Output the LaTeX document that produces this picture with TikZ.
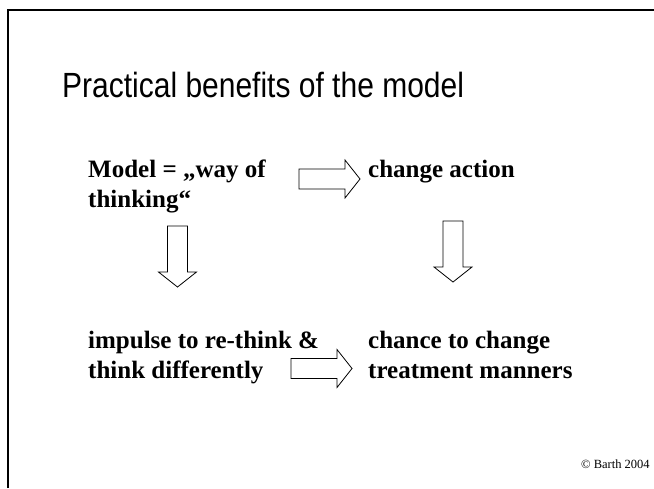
\documentclass[tikz,border=0pt]{standalone}
\usepackage{fontspec}
\setmainfont{Liberation Serif}
\newfontfamily\titlefont[FakeStretch=0.857]{Liberation Sans}
\newcommand{\twolines}[2]{\vtop{\hbox{#1}\hbox{#2}}}
\begin{document}
\begin{tikzpicture}[x=1pt,y=-1pt,
  titletext/.style={anchor=base west,inner sep=0pt,font=\titlefont\fontsize{35}{40}\selectfont},
  bodytext/.style={anchor=base west,inner sep=0pt,font=\bfseries\fontsize{25}{30}\selectfont},
  smalltext/.style={anchor=base west,inner sep=0pt,font=\fontsize{12.5}{14}\selectfont},
  frameline/.style={line width=2.5pt,black},
  blockarrow/.pic={\draw[line width=0.8pt,fill=white,line join=miter]
     (0,-10) -- (46,-10) -- (46,-19) -- (61,0) -- (46,19) -- (46,10) -- (0,10) -- cycle;}
]
\useasboundingbox (0,0) rectangle (654,488);
\fill[white] (0,0) rectangle (654,488);
% frame (top and left edges visible)
\coordinate (fbl) at (8,488);
\coordinate (ftl) at (8,10);
\coordinate (ftr) at (654,10);
\draw[frameline] (fbl) -- (ftl) -- (ftr);

\node[titletext] (title) at (62,97) {Practical benefits of the model};

\node[bodytext] (model) at (88,177) {\twolines{Model = „way of}{thinking“}};
\node[bodytext] (action) at (368,177) {change action};
\node[bodytext] (impulse) at (88,348) {\twolines{impulse to re-think \&}{think differently}};
\node[bodytext] (chance) at (368,348) {\twolines{chance to change}{treatment manners}};

\coordinate (a1) at (299,179);
\coordinate (a2) at (177.5,226);
\coordinate (a3) at (453,221);
\coordinate (a4) at (291,368.5);
\pic at (a1) {blockarrow};
\pic[rotate=-90] at (a2) {blockarrow};
\pic[rotate=-90] at (a3) {blockarrow};
\pic at (a4) {blockarrow};

\node[smalltext] (copy) at (581,468) {© Barth 2004};
\end{tikzpicture}
\end{document}
